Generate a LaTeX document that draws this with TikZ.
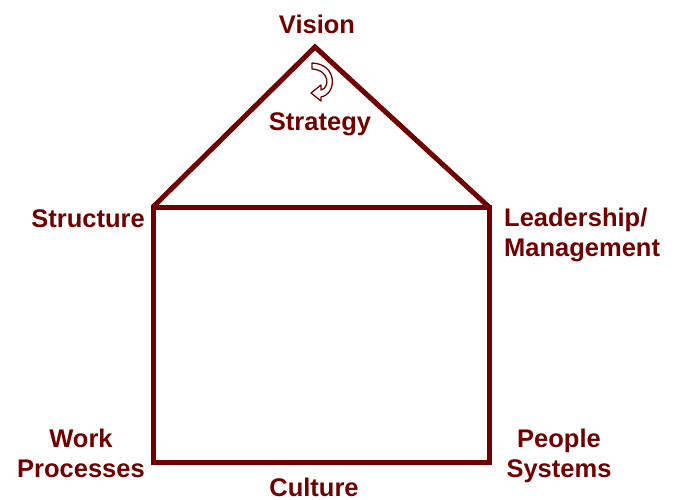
\documentclass[tikz,border=0pt]{standalone}
\usepackage{fontspec}
\setmainfont{Liberation Sans}
\definecolor{maroon}{RGB}{112,0,0}
\begin{document}
\begin{tikzpicture}[x=1pt,y=-1pt,
  lbl/.style={text=maroon,font=\bfseries\fontsize{25.5}{30}\selectfont,inner sep=0pt,align=center},
  wall/.style={draw=maroon,line width=5pt,line join=miter}]
\path[use as bounding box,fill=white] (0,0) rectangle (674,500);
\coordinate (apex) at (315,47);
\coordinate (tl) at (153,207);
\coordinate (tr) at (489,207);
\coordinate (bl) at (153,462);
\coordinate (br) at (489,462);
\draw[wall] (tl) -- (apex) -- (tr);
\draw[wall] (tl) -- (tr) -- (br) -- (bl) -- cycle;
% curved outline arrow
\draw[draw=maroon,fill=white,line width=1.3pt,line join=round]
  (312,63) .. controls (338,64) and (337,94) .. (321,97) -- (321,101) -- (311,93)
  -- (321,85) -- (321,90) .. controls (330,88) and (330,70) .. (312,69) -- cycle;
\node[lbl,anchor=base] (vision) at (317,34) {Vision};
\node[lbl,anchor=base] (strategy) at (320,131) {Strategy};
\node[lbl,anchor=base east] (structure) at (145,227) {Structure};
\node[lbl,anchor=north west,align=left] (lead) at (504,208) {Leadership/\\Management};
\node[lbl,anchor=north] (work) at (81,429) {Work\\Processes};
\node[lbl,anchor=north] (people) at (559,429) {People\\Systems};
\node[lbl,anchor=base] (culture) at (314,496) {Culture};
\end{tikzpicture}
\end{document}
